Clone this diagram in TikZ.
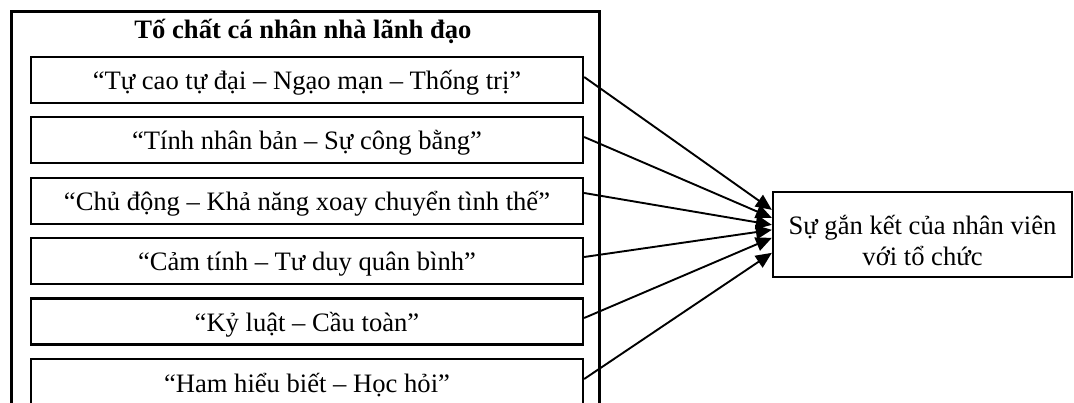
\documentclass[tikz,border=0pt]{standalone}
\usepackage{fontspec}
\setmainfont{Liberation Serif}
\usetikzlibrary{arrows.meta,calc}
\begin{document}
\begin{tikzpicture}[x=1pt,y=-1pt,
  txt/.style={font=\fontsize{26.6}{31}\selectfont},
  inbox/.style={txt, draw, line width=2.3pt, minimum width=552pt, minimum height=46pt, inner sep=0pt, text height=26pt, text depth=6pt},
  conn/.style={line width=1.9pt, -{Triangle[length=16pt,width=14pt]}}]
\clip (0,0) rectangle (1074,403);
\node[draw, line width=3pt, minimum width=588pt, minimum height=420pt, inner sep=0pt] (outer) at (305,222) {};
\node[txt, font=\bfseries\fontsize{26.6}{31}\selectfont, anchor=base, inner sep=0pt] (title) at (303,39) {Tố chất cá nhân nhà lãnh đạo};
\node[inbox] (b1) at (307,80) {“Tự cao tự đại – Ngạo mạn – Thống trị”};
\node[inbox] (b2) at (307,140) {“Tính nhân bản – Sự công bằng”};
\node[inbox] (b3) at (307,201) {“Chủ động – Khả năng xoay chuyển tình thế”};
\node[inbox] (b4) at (307,261) {“Cảm tính – Tư duy quân bình”};
\node[inbox] (b5) at (307,321.5) {“Kỷ luật – Cầu toàn”};
\node[inbox] (b6) at (307,382) {“Ham hiểu biết – Học hỏi”};
\node[txt, draw, line width=2.3pt, minimum width=299pt, minimum height=85pt, inner sep=0pt, align=center, text depth=0pt] (r) at (922.5,234.5) {\rule{0pt}{32pt}Sự gắn kết của nhân viên\\với tổ chức};
\draw[conn] ($(b1.east)+(0,-3)$) -- ($(r.north west)+(0,19)$);
\draw[conn] ($(b2.east)+(0,-3)$) -- ($(r.north west)+(0,27)$);
\draw[conn] ($(b3.east)+(0,-8)$) -- ($(r.north west)+(0,34)$);
\draw[conn] ($(b4.east)+(0,-4)$) -- ($(r.north west)+(0,39)$);
\draw[conn] ($(b5.east)+(0,-3.5)$) -- ($(r.north west)+(0,47)$);
\draw[conn] ($(b6.east)+(0,-3)$) -- ($(r.north west)+(0,62)$);
\end{tikzpicture}
\end{document}
